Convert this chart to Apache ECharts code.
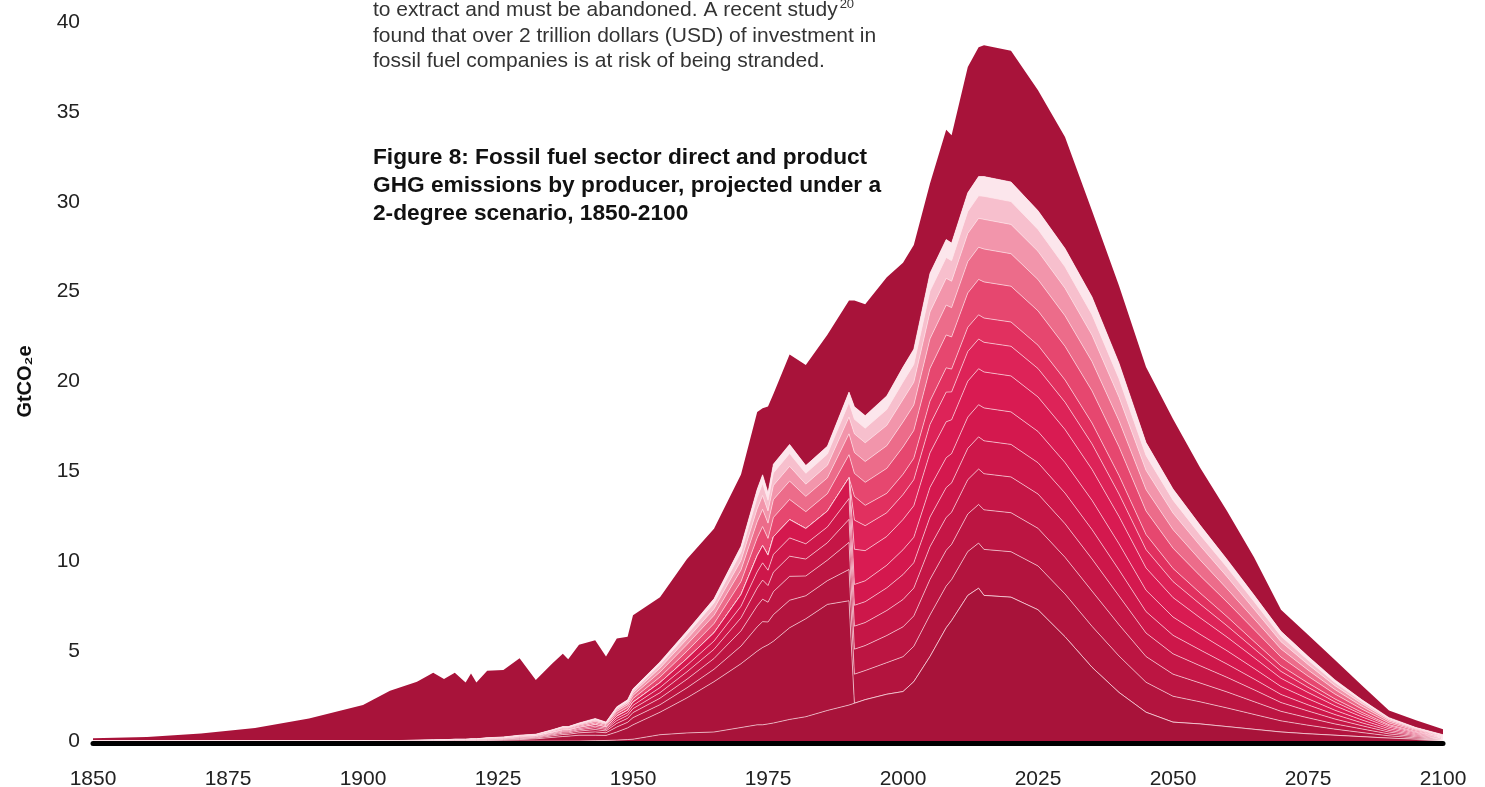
<!DOCTYPE html>
<html>
<head>
<meta charset="utf-8">
<script src="https://cdn.jsdelivr.net/npm/echarts@6/dist/echarts.min.js"></script>
<style>
html,body{margin:0;padding:0;background:#ffffff;}
#c{width:1485px;height:787px;}
</style>
</head>
<body>
<div id="c"></div>
<script>
// sample years (x values)
const years = [1850,1860,1870,1880,1890,1900,1905,1910,1913,1915,1917,1919,1920,1921,1923,1926,1929,1932,1935,1937,1938,1940,1943,1945,1947,1949,1950,1955,1960,1965,1970,1973,1974,1975,1976,1979,1982,1986,1990,1991,1993,1997,2000,2002,2005,2008,2009,2012,2014,2015,2020,2025,2030,2035,2040,2045,2050,2055,2060,2065,2070,2075,2080,2085,2090,2095,2100];

// GtCO2e per producer layer, bottom to top
const producerA = [0,0,0,0,0,0,0,0,0,0,0,0,0,0,0,0,0,0,0,0,0,
  0,0.02,0.03,0.05,0.08,0.1,0.35,0.45,0.5,0.75,
  0.9,0.9,0.95,1.0,1.2,1.35,1.7,2.0,2.1,2.3,
  2.6,2.75,3.3,4.7,6.3,6.7,8.1,8.5,8.1,8.0,
  7.3,5.8,4.1,2.7,1.6,1.05,0.95,0.8,0.65,0.5,
  0.4,0.32,0.24,0.16,0.1,0.05];

const formerSoviet = [0,0,0,0,0,0,0,0,0,
  0,0.01,0.01,0.01,0.02,0.03,0.05,0.08,0.12,0.2,
  0.25,0.27,0.32,0.3,0.28,0.45,0.65,0.8,1.25,1.95,
  2.8,3.55,4.1,4.3,4.4,4.55,5.1,5.45,5.9,5.8,
  0,
  0,0,0,0,0,0,0,0,0,0,0,0,0,0,0,0,0,0,0,0,0,0,0,0,0,0,0];

const producer1 = [0,0,0,0,0,0,
  .004,.008,.012,.014,.018,.018,.022,.02,.03,.034,.048,.052,.084,.11,.106,.136,.186,.148,.28,.31,.4,
  .42,.56,.69,.98,1.35,1.44,1.27,1.48,1.53,1.28,1.32,1.74,
  1.62,1.62,1.76,1.94,1.97,2.31,2.32,2.28,2.44,2.51,2.56,2.53,2.44,2.38,2.28,2.03,1.67,1.44,1.23,1.04,.83,.62,.48,.34,.23,.127,.073,.034];

const producer2 = [0,0,0,0,0,0,
  .003,.006,.008,.01,.013,.013,.015,.014,.021,.024,.034,.036,.059,.077,.074,.095,.13,.104,.2,.22,.28,
  .36,.48,.6,.85,1.17,1.25,1.1,1.28,1.33,1.1,1.14,1.51,
  1.39,1.39,1.51,1.66,1.69,1.98,1.99,1.96,2.09,2.15,2.2,2.17,2.09,2.04,1.96,1.74,1.43,1.23,1.05,.89,.71,.53,.41,.29,.2,.109,.062,.029];

const producer3 = [0,0,0,0,0,0,
  .002,.004,.007,.008,.01,.01,.012,.011,.017,.019,.026,.029,.046,.061,.058,.075,.102,.081,.15,.17,.22,
  .31,.41,.51,.72,.99,1.06,.93,1.08,1.12,.94,.97,1.28,
  1.28,1.28,1.39,1.52,1.55,1.82,1.83,1.79,1.91,1.97,2.01,1.99,1.91,1.87,1.79,1.6,1.31,1.13,.96,.81,.66,.49,.38,.27,.18,.1,.057,.026];

const producer4 = [0,0,0,0,0,0,
  .002,.004,.005,.006,.008,.008,.01,.009,.014,.015,.022,.023,.038,.05,.048,.061,.084,.067,.13,.14,.18,
  .28,.37,.46,.65,.9,.96,.85,.99,1.02,.85,.88,1.16,
  1.16,1.16,1.26,1.39,1.41,1.65,1.66,1.63,1.74,1.79,1.83,1.81,1.74,1.7,1.63,1.45,1.19,1.03,.88,.74,.6,.45,.34,.25,.16,.091,.052,.024];

const producer5 = [0,0,0,0,0,0,
  .002,.004,.005,.006,.008,.008,.01,.009,.014,.015,.022,.023,.038,.05,.048,.061,.084,.067,.12,.14,.18,
  .28,.37,.46,.65,.9,.96,.84,.98,1.02,.85,.88,1.16,
  1.16,1.16,1.26,1.38,1.41,1.65,1.66,1.63,1.74,1.79,1.83,1.81,1.74,1.7,1.63,1.45,1.19,1.02,.87,.74,.59,.44,.34,.24,.16,.091,.052,.024];

const successor1 = [0,0,0,0,0,0,0,0,0,0,0,0,0,0,0,0,0,0,0,0,0,0,0,0,0,0,0,0,0,0,0,0,0,0,0,0,0,0,
  0,
  1.96,1.68,1.6,1.68,1.76,1.92,2.0,1.88,2.0,2.0,2.0,2.0,1.92,1.84,1.72,1.52,1.24,1.08,.92,.76,.6,.46,.35,.25,.17,.09,.05,.02];

const successor2 = [0,0,0,0,0,0,0,0,0,0,0,0,0,0,0,0,0,0,0,0,0,0,0,0,0,0,0,0,0,0,0,0,0,0,0,0,0,0,
  0,
  1.62,1.39,1.32,1.39,1.45,1.58,1.65,1.55,1.65,1.65,1.65,1.65,1.58,1.52,1.42,1.25,1.02,.89,.76,.63,.5,.38,.29,.21,.14,.08,.04,.02];

const successor3 = [0,0,0,0,0,0,0,0,0,0,0,0,0,0,0,0,0,0,0,0,0,0,0,0,0,0,0,0,0,0,0,0,0,0,0,0,0,0,
  0,
  1.32,1.13,1.08,1.13,1.19,1.3,1.35,1.27,1.35,1.35,1.35,1.35,1.3,1.24,1.16,1.03,.84,.73,.62,.51,.4,.31,.24,.17,.11,.06,.04,.02];

const producer6 = [0,0,0,0,0,0,
  .002,.004,.006,.007,.009,.009,.011,.01,.015,.017,.024,.026,.042,.055,.053,.068,.093,.074,.14,.16,.2,
  .31,.41,.51,.72,.99,1.06,.93,1.08,1.12,.94,.97,1.28,
  1.28,1.28,1.39,1.52,1.55,1.82,1.83,1.79,1.91,1.97,2.01,1.99,1.91,1.87,1.79,1.6,1.31,1.13,.96,.81,.66,.49,.38,.27,.18,.1,.057,.026];

const producer7 = [0,0,0,0,0,0,
  .002,.004,.005,.006,.008,.008,.01,.009,.014,.015,.022,.023,.038,.05,.048,.061,.084,.067,.13,.14,.18,
  .28,.37,.46,.65,.9,.96,.85,.99,1.02,.85,.88,1.16,
  1.16,1.16,1.26,1.39,1.41,1.65,1.66,1.63,1.74,1.79,1.83,1.81,1.74,1.7,1.63,1.45,1.19,1.03,.88,.74,.6,.45,.34,.25,.16,.091,.052,.024];

const producer8 = [0,0,0,0,0,0,
  .001,.003,.004,.005,.006,.006,.008,.007,.011,.012,.017,.018,.029,.039,.037,.048,.065,.052,.098,.11,.14,
  .22,.3,.37,.52,.72,.77,.68,.79,.82,.68,.7,.93,
  1.04,1.04,1.13,1.25,1.27,1.49,1.49,1.47,1.57,1.61,1.65,1.63,1.57,1.53,1.47,1.31,1.07,.92,.79,.67,.54,.4,.31,.22,.148,.082,.047,.022];

const producer9 = [0,0,0,0,0,0,
  .001,.002,.004,.004,.005,.005,.007,.006,.009,.01,.014,.016,.025,.033,.032,.041,.056,.044,.084,.094,.12,
  .2,.26,.32,.46,.63,.67,.59,.69,.71,.6,.62,.81,
  .81,.81,.88,.97,.99,1.16,1.16,1.14,1.22,1.25,1.28,1.27,1.22,1.19,1.14,1.02,.83,.72,.61,.52,.42,.31,.24,.17,.115,.064,.036,.017];

const producer10 = [0,0,0,0,0,0,
  .001,.002,.003,.004,.005,.005,.005,.005,.008,.009,.012,.013,.021,.028,.027,.034,.047,.037,.07,.079,.1,
  .14,.19,.23,.33,.45,.48,.42,.49,.51,.43,.44,.58,
  .7,.7,.76,.83,.85,.99,1.0,.98,1.04,1.07,1.1,1.09,1.04,1.02,.98,.87,.71,.62,.53,.44,.36,.27,.21,.15,.098,.055,.031,.014];

const allOther = [0.15,0.22,0.42,0.72,1.25,2.0,2.78,3.26,3.74,3.38,
  3.70,3.15,3.63,3.13,3.72,3.73,4.28,3.02,3.68,4.05,
  3.75,4.35,4.35,3.65,3.80,3.50,4.10,3.60,4.00,3.90,
  4.00,4.30,3.70,4.80,3.90,5.00,5.60,6.20,5.10,5.90,
  6.20,6.60,5.80,5.80,5.00,6.10,6.00,7.00,7.20,7.30,
  7.30,6.70,6.20,4.80,4.30,4.20,3.90,3.20,2.70,2.10,
  1.20,1.20,1.10,0.80,0.40,0.40,0.30];

const yTicks = {min: 0, max: 40, interval: 5};
const xTicks = {min: 1850, max: 2100, interval: 25};

const bodyLines = [
  'to extract and must be abandoned. A recent study',
  'found that over 2 trillion dollars (USD) of investment in',
  'fossil fuel companies is at risk of being stranded.'
];
const bodySup = '20';
const titleLines = [
  'Figure 8: Fossil fuel sector direct and product',
  'GHG emissions by producer, projected under a',
  '2-degree scenario, 1850-2100'
];
const yName = 'GtCO\u2082e';

const FONT = '"Liberation Sans", Arial, Helvetica, sans-serif';

const layers = [
  {name: 'Producer A', data: producerA, color: '#A8133A', line: true},
  {name: 'Former Soviet Union', data: formerSoviet, color: '#AB133B', line: true},
  {name: 'Producer 1', data: producer1, color: '#B3143E', line: true},
  {name: 'Producer 2', data: producer2, color: '#BC1542', line: true},
  {name: 'Producer 3', data: producer3, color: '#C51646', line: true},
  {name: 'Producer 4', data: producer4, color: '#CD174A', line: true},
  {name: 'Producer 5', data: producer5, color: '#D4184E', line: true},
  {name: 'Successor 1', data: successor1, color: '#D91B52', line: true},
  {name: 'Successor 2', data: successor2, color: '#DD2358', line: true},
  {name: 'Successor 3', data: successor3, color: '#E1305F', line: true},
  {name: 'Producer 6', data: producer6, color: '#E6476F', line: true},
  {name: 'Producer 7', data: producer7, color: '#EC6C8A', line: true},
  {name: 'Producer 8', data: producer8, color: '#F295AB', line: true},
  {name: 'Producer 9', data: producer9, color: '#F7BFCD', line: true},
  {name: 'Producer 10', data: producer10, color: '#FCE6EC', line: true},
  {name: 'All other', data: allOther, color: '#A8133A', line: false}
];

// value first, year second: the stacked (first) dimension is then the y value
const series = layers.map(function (L, i) {
  return {
    type: 'line',
    name: L.name,
    stack: 'total',
    encode: {x: 1, y: 0},
    symbol: 'none',
    showSymbol: false,
    smooth: false,
    silent: true,
    z: 40 - i,
    data: years.map(function (y, k) { return [L.data[k], y]; }),
    lineStyle: L.line ? {width: 0.7, color: 'rgba(255,232,237,0.92)'} : {width: 0, opacity: 0},
    areaStyle: {color: L.color, opacity: 1},
    emphasis: {disabled: true}
  };
});

// measure first body line for the superscript position
const mctx = document.createElement('canvas').getContext('2d');
mctx.font = '21px ' + FONT;
const line1W = mctx.measureText(bodyLines[0]).width;

const textX = 373;
const bodyY = [10, 36, 61];
const titleY = [158, 186, 214];

const graphic = [];
bodyLines.forEach(function (t, i) {
  graphic.push({type: 'text', x: textX, y: bodyY[i], silent: true,
    style: {text: t, font: '21px ' + FONT, fill: '#333333', align: 'left', verticalAlign: 'middle'}});
});
graphic.push({type: 'text', x: textX + line1W + 2, y: 4, silent: true,
  style: {text: bodySup, font: '13px ' + FONT, fill: '#333333', align: 'left', verticalAlign: 'middle'}});
titleLines.forEach(function (t, i) {
  graphic.push({type: 'text', x: textX, y: titleY[i], silent: true,
    style: {text: t, font: 'bold 22.7px ' + FONT, fill: '#111111', align: 'left', verticalAlign: 'middle'}});
});

const chart = echarts.init(document.getElementById('c'), null, {renderer: 'canvas'});
chart.setOption({
  animation: false,
  backgroundColor: '#ffffff',
  textStyle: {fontFamily: FONT},
  grid: {left: 93, right: 42, top: 22, bottom: 46, containLabel: false, outerBoundsMode: 'none'},
  xAxis: {
    type: 'value', min: xTicks.min, max: xTicks.max, interval: xTicks.interval,
    offset: 2, z: 60,
    axisLine: {show: true, onZero: false, lineStyle: {color: '#000000', width: 5}},
    axisTick: {show: false},
    splitLine: {show: false},
    axisLabel: {fontSize: 21, color: '#222222', margin: 26, formatter: function (v) { return String(v); }}
  },
  yAxis: {
    type: 'value', min: yTicks.min, max: yTicks.max, interval: yTicks.interval,
    axisLine: {show: false},
    axisTick: {show: false},
    splitLine: {show: false},
    axisLabel: {fontSize: 21, color: '#222222', margin: 13},
    name: yName, nameLocation: 'middle', nameGap: 58, nameRotate: 90,
    nameTextStyle: {fontSize: 20, fontWeight: 'bold', color: '#111111'}
  },
  graphic: graphic,
  series: series
});
</script>
</body>
</html>
